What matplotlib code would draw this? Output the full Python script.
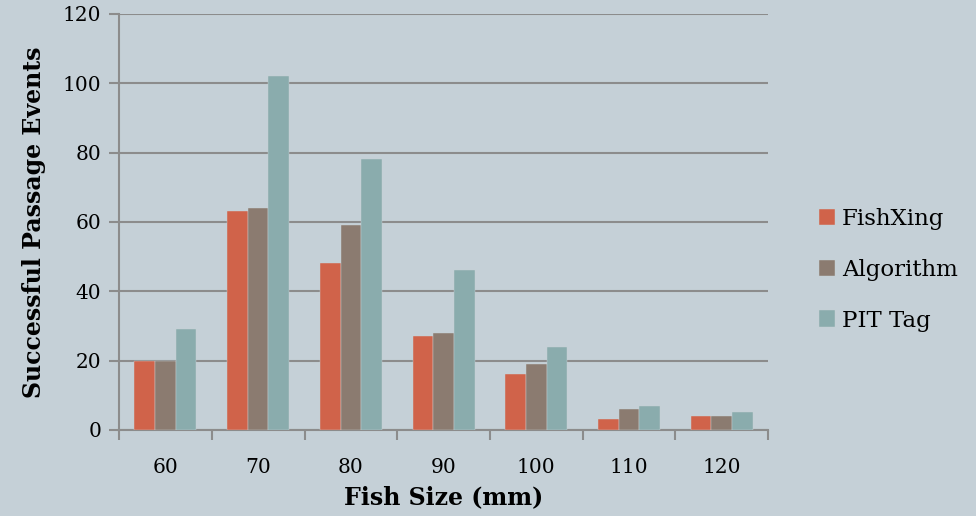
import numpy as np
import matplotlib.pyplot as plt

sizes = ["60", "70", "80", "90", "100", "110", "120"]
fishxing = [20, 63, 48, 27, 16, 3, 4]
algorithm = [20, 64, 59, 28, 19, 6, 4]
pit_tag = [29, 102, 78, 46, 24, 7, 5]

bg = "#C5D0D7"
colors = ["#D0634A", "#8B7B70", "#8AACAD"]
grid_c = "#8C8C8C"

plt.rcParams['font.family'] = ['DejaVu Serif']

fig = plt.figure(figsize=(9.76, 5.16), dpi=100, facecolor=bg)
ax = fig.add_axes([0.122, 0.167, 0.665, 0.806], facecolor=bg)

x = np.arange(len(sizes))
w = 0.223
for i, (vals, name) in enumerate(zip([fishxing, algorithm, pit_tag],
                                     ["FishXing", "Algorithm", "PIT Tag"])):
    ax.bar(x + (i - 1) * w, vals, w, color=colors[i], label=name,
           edgecolor="#C9D2D6", linewidth=0.3, zorder=3)

ax.set_xlim(-0.5, len(sizes) - 0.5)
ax.set_ylim(0, 120)
ax.set_yticks(range(0, 121, 20))
ax.yaxis.grid(True, color=grid_c, linewidth=1.5, zorder=0)
ax.set_axisbelow(True)

ax.set_xticks(x)
ax.set_xticklabels(sizes, fontsize=14.5)
ax.set_xticks(np.arange(-0.5, len(sizes)), minor=True)
ax.tick_params(axis='x', which='major', length=0, pad=20)
ax.tick_params(axis='x', which='minor', length=7, width=1.5, color=grid_c)
ax.tick_params(axis='y', length=7, width=1.5, color=grid_c, labelsize=14.5, pad=6)

for s in ["top", "right"]:
    ax.spines[s].set_visible(False)
for s in ["left", "bottom"]:
    ax.spines[s].set_color(grid_c)
    ax.spines[s].set_linewidth(1.5)

ax.set_xlabel("Fish Size (mm)", fontsize=17, fontweight="bold", labelpad=6)
ax.set_ylabel("Successful Passage Events", fontsize=17, fontweight="bold", labelpad=12)

handles, labels = ax.get_legend_handles_labels()
leg = fig.legend(handles, labels, loc="center left", bbox_to_anchor=(0.818, 0.477),
                 frameon=False, fontsize=16.5, handlelength=0.7, handleheight=0.7,
                 handletextpad=0.3, labelspacing=1.25)

fig.savefig("out.png", dpi=100, facecolor=bg)
